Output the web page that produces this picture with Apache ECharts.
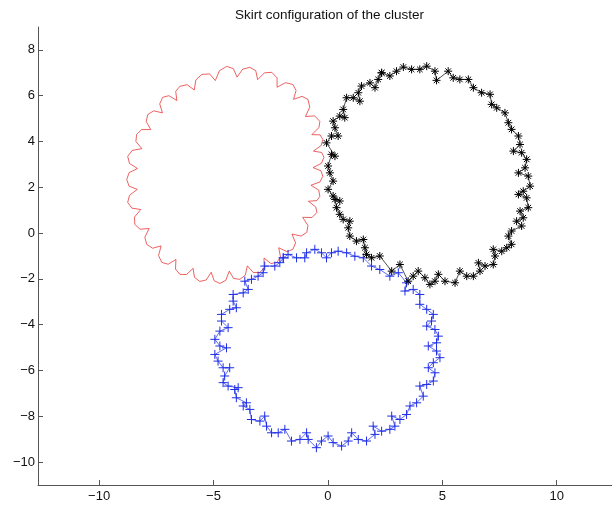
<!DOCTYPE html>
<html>
<head>
<meta charset="utf-8">
<script src="https://cdn.jsdelivr.net/npm/echarts@6/dist/echarts.min.js"></script>
<style>
  html, body { margin: 0; padding: 0; background: #fff; }
  #chart { width: 612px; height: 513px; }
</style>
</head>
<body>
<div id="chart"></div>
<script>
// outlines, [x, y]
// red: arch top, shoulder, inward cusp, shoulder, next arch top ...
var redSkirt = [
  [-4.42,7.28],[-4.13,7.18],[-3.97,6.81],[-3.72,7.16],
  [-3.41,7.24],[-3.15,7.09],[-3.07,6.70],[-2.77,7.00],
  [-2.45,7.02],[-2.22,6.78],[-2.22,6.37],[-1.85,6.57],
  [-1.53,6.49],[-1.39,6.23],[-1.50,5.84],[-1.13,5.97],
  [-0.87,5.84],[-0.79,5.50],[-0.98,5.09],[-0.58,5.12],
  [-0.35,4.88],[-0.39,4.61],[-0.70,4.30],[-0.34,4.29],
  [-0.22,4.09],[-0.29,3.83],[-0.63,3.58],[-0.27,3.52],
  [-0.17,3.31],[-0.28,3.05],[-0.65,2.86],[-0.30,2.72],
  [-0.22,2.48],[-0.35,2.23],[-0.74,2.09],[-0.40,1.88],
  [-0.35,1.60],[-0.48,1.42],[-0.85,1.39],[-0.53,1.14],
  [-0.48,0.90],[-0.69,0.68],[-1.10,0.69],[-0.87,0.33],
  [-0.92,0.03],[-1.17,-0.13],[-1.57,-0.04],[-1.41,-0.43],
  [-1.53,-0.71],[-1.79,-0.81],[-2.15,-0.64],[-2.07,-1.04],
  [-2.23,-1.28],[-2.49,-1.33],[-2.79,-1.09],[-2.79,-1.51],
  [-2.97,-1.72],[-3.26,-1.72],[-3.52,-1.43],[-3.61,-1.84],
  [-3.85,-2.02],[-4.12,-1.98],[-4.31,-1.66],[-4.46,-2.06],
  [-4.72,-2.20],[-4.97,-2.08],[-5.10,-1.71],[-5.32,-2.05],
  [-5.60,-2.11],[-5.83,-1.93],[-5.89,-1.54],[-6.18,-1.81],
  [-6.47,-1.80],[-6.66,-1.57],[-6.64,-1.15],[-6.98,-1.36],
  [-7.26,-1.28],[-7.40,-0.98],[-7.29,-0.56],[-7.66,-0.66],
  [-7.92,-0.49],[-8.00,-0.18],[-7.81,0.20],[-8.21,0.17],
  [-8.44,0.38],[-8.45,0.70],[-8.18,1.03],[-8.57,1.09],
  [-8.75,1.34],[-8.67,1.65],[-8.33,1.91],[-8.69,2.05],
  [-8.79,2.34],[-8.69,2.64],[-8.32,2.82],[-8.67,3.04],
  [-8.75,3.35],[-8.55,3.61],[-8.13,3.69],[-8.39,4.00],
  [-8.36,4.31],[-8.14,4.52],[-7.74,4.52],[-7.94,4.87],
  [-7.87,5.18],[-7.61,5.34],[-7.23,5.25],[-7.35,5.64],
  [-7.22,5.93],[-6.95,6.00],[-6.60,5.79],[-6.65,6.19],
  [-6.47,6.41],[-6.15,6.48],[-5.84,6.25],[-5.77,6.69],
  [-5.51,6.93],[-5.17,6.95],[-4.92,6.66],[-4.74,7.09],
  [-4.42,7.28]
];

var blackSkirt = [
  [2.35,7.00],[2.71,6.86],[3.00,7.07],[3.30,7.25],[3.66,7.15],[4.02,7.15],
  [4.32,7.29],[4.68,7.07],[4.75,6.67],[5.26,7.07],[5.48,6.78],[5.77,6.71],
  [6.14,6.71],[6.36,6.35],[6.72,6.13],[7.09,6.06],[7.16,5.62],[7.38,5.47],
  [7.74,5.25],[7.89,4.82],[8.03,4.53],[8.33,4.24],[8.40,3.87],[8.11,3.58],
  [8.47,3.51],[8.69,3.22],[8.62,2.85],[8.33,2.63],[8.76,2.49],[8.84,2.05],
  [8.54,1.83],[8.33,1.69],[8.69,1.54],[8.76,1.11],[8.40,0.96],[8.54,0.67],
  [8.25,0.52],[8.47,0.31],[8.03,0.09],[7.89,-0.13],[8.03,-0.49],[7.82,-0.64],
  [7.60,-0.79],[7.23,-0.71],[7.31,-1.00],[7.23,-1.37],[6.87,-1.44],[6.58,-1.30],
  [6.65,-1.66],[6.36,-1.88],[6.07,-1.88],[5.77,-1.66],[5.56,-2.17],[5.12,-2.10],
  [4.83,-1.80],[4.68,-2.10],[4.46,-2.24],[4.24,-1.95],[3.95,-1.66],[3.73,-1.88],
  [3.51,-2.10],[3.15,-1.37],[2.79,-1.66],[2.27,-1.00],[1.91,-1.08],[1.69,-0.93],
  [1.62,-0.64],[1.55,-0.28],[1.25,-0.35],[0.96,-0.13],[0.89,0.23],[0.96,0.52],
  [0.67,0.60],[0.52,0.82],[0.38,1.11],[0.31,1.47],[0.52,1.40],[0.23,1.62],
  [0.01,1.91],[0.23,2.27],[0.09,2.63],[0.01,2.93],[0.16,3.44],[0.31,3.36],
  [-0.06,3.94],[0.16,4.24],[0.45,4.24],[0.31,4.60],[0.23,4.89],[0.52,5.11],
  [0.74,5.04],[0.67,5.40],[0.82,5.91],[1.11,5.91],[1.40,5.76],[1.33,6.13],
  [1.47,6.42],[1.84,6.56],[2.06,6.35],[2.20,6.71],[2.35,7.00]
];

var blueSkirt = [
  [-1.95,-1.08],[-1.74,-0.93],[-1.37,-1.08],[-1.01,-1.08],[-0.93,-0.86],[-0.57,-0.71],
  [-0.28,-0.86],[-0.06,-1.08],[0.16,-0.86],[0.45,-0.79],[0.82,-0.86],[1.18,-1.01],
  [1.55,-1.08],[1.91,-1.44],[2.27,-1.59],[2.71,-1.88],[3.08,-1.73],[3.44,-2.17],
  [3.37,-2.53],[3.73,-2.46],[4.02,-2.68],[4.02,-3.11],[4.32,-3.33],[4.61,-3.55],
  [4.53,-3.84],[4.32,-4.06],[4.68,-4.21],[4.83,-4.50],[4.75,-4.79],[4.39,-4.93],
  [4.75,-5.15],[4.90,-5.44],[4.61,-5.66],[4.39,-5.88],[4.68,-6.10],[4.61,-6.46],
  [4.32,-6.61],[4.02,-6.68],[4.17,-7.12],[3.88,-7.41],[3.59,-7.55],[3.44,-7.92],
  [3.15,-8.14],[2.79,-7.99],[2.93,-8.43],[2.71,-8.57],[2.35,-8.65],[1.98,-8.43],
  [2.06,-8.79],[1.69,-9.08],[1.33,-9.01],[1.04,-8.72],[0.89,-9.08],[0.60,-9.30],
  [0.23,-9.15],[0.01,-8.86],[-0.28,-9.08],[-0.50,-9.37],[-0.86,-9.01],[-0.93,-8.72],
  [-1.22,-9.01],[-1.59,-9.08],[-1.88,-8.57],[-2.17,-8.72],[-2.46,-8.72],[-2.68,-8.43],
  [-2.76,-7.99],[-2.97,-8.21],[-3.34,-8.14],[-3.41,-7.70],[-3.70,-7.55],[-3.56,-7.41],
  [-4.00,-7.19],[-4.07,-6.83],[-3.92,-6.75],[-4.36,-6.68],[-4.58,-6.53],[-4.51,-6.24],
  [-4.29,-5.88],[-4.58,-5.88],[-4.80,-5.59],[-4.94,-5.30],[-4.43,-5.01],[-4.72,-4.93],
  [-4.94,-4.64],[-4.72,-4.28],[-4.36,-4.13],[-4.65,-3.84],[-4.65,-3.55],[-4.29,-3.33],
  [-4.00,-3.26],[-4.14,-2.97],[-4.14,-2.68],[-3.70,-2.61],[-3.48,-2.46],[-3.63,-2.10],
  [-3.34,-2.02],[-3.05,-1.88],[-2.83,-1.73],[-2.76,-1.44],[-2.32,-1.44],[-2.10,-1.29],
  [-1.95,-1.08]
];

var xTicks = [-10, -5, 0, 5, 10];
var yTicks = [-10, -8, -6, -4, -2, 0, 2, 4, 6, 8];

var STAR = 'path://M0,5L10,5M5,0L5,10M1.5,1.5L8.5,8.5M1.5,8.5L8.5,1.5';
var PLUS = 'path://M0,5L10,5M5,0L5,10';
var axisGray = '#555';
var labelFont = 'Liberation Sans, Arial, sans-serif';

function minusSign(v) {
  return String(v).replace('-', '\u2212');
}

var myChart = echarts.init(document.getElementById('chart'));

var option = {
  animation: false,
  backgroundColor: '#fff',
  textStyle: { fontFamily: labelFont },
  graphic: [{
    type: 'text',
    left: 235,
    top: 8,
    style: {
      text: 'Skirt configuration of the cluster',
      fontSize: 13.5,
      fontFamily: labelFont,
      fill: '#111'
    }
  }],
  grid: {
    left: 38, top: 27, right: 0, bottom: 28,
    containLabel: false,
    outerBoundsMode: 'none'
  },
  xAxis: {
    type: 'value',
    min: -12.67,
    max: 12.42,
    splitLine: { show: false },
    axisLine: { show: true, onZero: false, lineStyle: { color: axisGray, width: 1 } },
    axisTick: { show: true, inside: true, length: 5, customValues: xTicks, lineStyle: { color: axisGray } },
    axisLabel: { customValues: xTicks, formatter: minusSign, color: '#111', fontSize: 13, margin: 5 }
  },
  yAxis: {
    type: 'value',
    min: -11,
    max: 9,
    splitLine: { show: false },
    axisLine: { show: true, onZero: false, lineStyle: { color: axisGray, width: 1 } },
    axisTick: { show: true, inside: true, length: 5, customValues: yTicks, lineStyle: { color: axisGray } },
    axisLabel: { customValues: yTicks, formatter: minusSign, color: '#111', fontSize: 13, margin: 3 }
  },
  series: [
    {
      name: 'red',
      type: 'line',
      data: redSkirt,
      symbol: 'none',
      lineStyle: { color: '#e83a3a', width: 0.8 }
    },
    {
      name: 'blue',
      type: 'line',
      data: blueSkirt,
      symbol: PLUS,
      symbolSize: 9,
      itemStyle: { color: 'none', borderColor: '#1f2fe6', borderWidth: 1 },
      lineStyle: { color: '#1f2fe6', width: 0.7 }
    },
    {
      name: 'black',
      type: 'line',
      data: blackSkirt,
      symbol: STAR,
      symbolSize: 8,
      itemStyle: { color: 'none', borderColor: '#000', borderWidth: 1 },
      lineStyle: { color: '#000', width: 0.7 }
    }
  ]
};
myChart.setOption(option);
</script>
</body>
</html>
